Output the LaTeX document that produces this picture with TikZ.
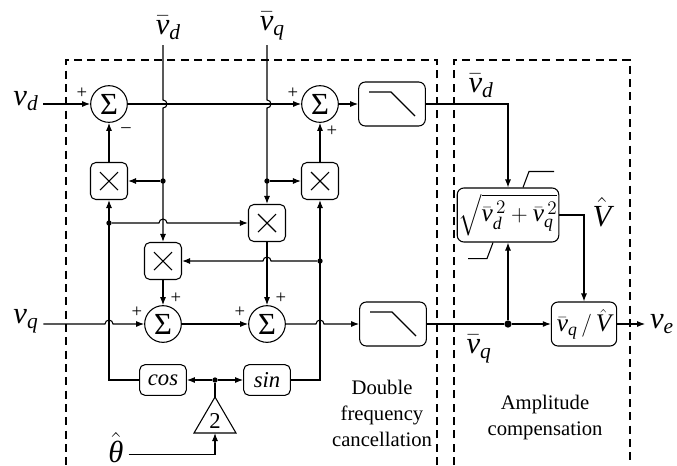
\documentclass[tikz,border=0pt]{standalone}
\usepackage{amsmath}
\usepackage{fontspec}
\setmainfont{Liberation Serif}
\usetikzlibrary{arrows.meta,positioning}
\newcommand{\iv}[1]{\textit{#1}}

\begin{document}
\begin{tikzpicture}[x=0.75pt, y=-0.75pt, line width=0.8pt, >={Latex[length=6pt,width=4.5pt]},
  sumnode/.style={draw, circle, minimum size=27.5pt, inner sep=0pt, font=\fontsize{23}{23}\selectfont},
  mulnode/.style={draw, rounded corners=4pt, minimum size=27.75pt, inner sep=0pt},
  lpfbox/.style={draw, rounded corners=5pt, minimum width=50pt, minimum height=33pt},
  trigbox/.style={draw, rounded corners=4pt, minimum width=35pt, minimum height=23pt, inner sep=0pt, font=\fontsize{17}{17}\selectfont\itshape},
  calcbox/.style={draw, rounded corners=5pt, inner sep=1pt, font=\fontsize{19}{19}\selectfont},
  dot/.style={circle, fill, inner sep=0pt, minimum size=4pt},
  sig/.style={font=\fontsize{23}{23}\selectfont},
  sgn/.style={font=\fontsize{14}{14}\selectfont, inner sep=0pt},
  note/.style={align=center, font=\fontsize{15.5}{19.5}\selectfont}]
  \useasboundingbox (0,0) rectangle (677,465);

  % Draw dashed frames
  \draw[dash pattern=on 6pt off 4pt] (437,465) -- (437,60) -- (66,60) -- (66,465);
  \draw[dash pattern=on 6pt off 4pt] (454,465) -- (454,60) -- (630,60) -- (630,465);

  % Draw blocks
  \node[sumnode] (sum1) at (109,104) {Σ};
  \node[sumnode] (sum2) at (320,104) {Σ};
  \node[sumnode] (sum3) at (163,324) {Σ};
  \node[sumnode] (sum4) at (267,324) {Σ};
  \node[mulnode] (mul1) at (109,181) {};
  \node[mulnode] (mul2) at (320,181) {};
  \node[mulnode] (mul3) at (267,223) {};
  \node[mulnode] (mul4) at (163,261) {};
  \node[lpfbox] (lpf1) at (392,104) {};
  \node[lpfbox] (lpf2) at (393,324) {};
  \node[trigbox] (cos) at (163,380) {cos};
  \node[trigbox] (sin) at (267,380) {sin};
  \node[calcbox, minimum width=73.5pt, minimum height=40.5pt] (mag) at (508,215)
    {$\sqrt{\bar{\iv{v}}_{\iv{d}}^{\,2}+\bar{\iv{v}}_{\iv{q}}^{\,2}}$};
  \node[calcbox, minimum width=49pt, minimum height=33pt] (norm) at (584,324)
    {$\bar{\iv{v}}_{\iv{q}}\,/\,\hat{\iv{V}}$};
  \node[font=\fontsize{17}{17}\selectfont] (gain) at (215,421) {2};
  \draw (194,433) -- (215,397) -- (236,433) -- cycle;
  \coordinate (gaintop) at (215,397);
  \coordinate (gainbot) at (215,433);

  % Draw multiplier crosses and filter icons
  \foreach \m in {mul1,mul2,mul3,mul4} {
    \draw ([shift={(-9,-9)}]\m.center) -- ++(18,18);
    \draw ([shift={(-9,9)}]\m.center) -- ++(18,-18);
  }
  \foreach \f in {lpf1,lpf2} {
    \draw ([shift={(-23,-12)}]\f.center) -- ++(22,0) -- ++(24,24);
  }
  \draw ([shift={(15,0)}]mag.north) -- ++(6,-16) -- ++(25,0);
  \draw ([shift={(-15,0)}]mag.south) -- ++(-6,16) -- ++(-19,0);

  % Draw branch points
  \node[dot] (d1) at (163,181) {};
  \node[dot] (d2) at (267,181) {};
  \node[dot] (d3) at (109,223) {};
  \node[dot] (d4) at (320,261) {};
  \node[dot] (split) at (215,380) {};
  \node[dot, minimum size=5.5pt] (tap) at (508,324) {};

  % Draw signal labels
  \node[sig] (vd) at (26,101) {$\iv{v}_{\iv{d}}$};
  \node[sig] (vq) at (26,321) {$\iv{v}_{\iv{q}}$};
  \coordinate (vdtop) at (163,45);
  \coordinate (vqtop) at (267,45);
  \node[sig, anchor=south, xshift=4pt] (vdbar) at (vdtop) {$\bar{\iv{v}}_{\iv{d}}$};
  \node[sig, anchor=south, xshift=4pt] (vqbar) at (vqtop) {$\bar{\iv{v}}_{\iv{q}}$};
  \node[sig] (vdout) at (481,86) {$\bar{\iv{v}}_{\iv{d}}$};
  \node[sig] (vqout) at (479,349) {$\bar{\iv{v}}_{\iv{q}}$};
  \node[sig] (vhat) at (602,212) {$\hat{\iv{V}}$};
  \node[sig] (ve) at (662,324) {$\iv{v}_{\iv{e}}$};
  \node[sig] (theta) at (116,448) {$\hat{\iv{θ}}$};

  % Draw signs
  \foreach \x/\y/\t in {82/93/+, 126/130/–, 293/93/+, 332/131/+, 137/312/+, 176/298/+, 240/312/+, 281/298/+}
    \node[sgn] (pm\x) at (\x,\y) {\t};

  % Draw connections
  \draw[->] (vd.east |- sum1) -- (sum1);
  \draw[->] (sum1) -- (sum2);
  \draw[->] (sum2) -- (lpf1);
  \draw[->] (vdtop) -- (163,100) arc[start angle=90, end angle=-90, radius=3pt] -- (mul4.north);
  \draw[->] (vqtop) -- (267,100) arc[start angle=90, end angle=-90, radius=3pt] -- (mul3.north);
  \draw[->] (d1) -- (mul1);
  \draw[->] (d2) -- (mul2);
  \draw[->] (mul1) -- (sum1);
  \draw[->] (mul2) -- (sum2);
  \draw[->] (cos.west) -| (mul1.south);
  \draw[->] (sin.east) -| (mul2.south);
  \draw[->] (d3) -- (159,223) arc[start angle=180, end angle=0, radius=3pt] -- (mul3.west);
  \draw[->] (d4) -- (271,261) arc[start angle=0, end angle=180, radius=3pt] -- (mul4.east);
  \draw[->] (mul4) -- (sum3);
  \draw[->] (mul3) -- (sum4);
  \draw[->] (vq.east |- sum3) -- (105,324) arc[start angle=180, end angle=0, radius=3pt] -- (sum3.west);
  \draw[->] (sum3) -- (sum4);
  \draw[->] (sum4) -- (316,324) arc[start angle=180, end angle=0, radius=3pt] -- (lpf2.west);
  \draw (gaintop) -- (split);
  \draw[->] (split) -- (cos);
  \draw[->] (split) -- (sin);
  \draw[->] ([yshift=-5pt]theta.east) -| (gainbot);
  \draw[->] (lpf1.east) -| (mag.north);
  \draw (lpf2.east) -- (tap);
  \draw[->] (tap) -- (mag.south);
  \draw[->] (tap) -- (norm.west);
  \draw[->] (mag.east) -| (norm.north);
  \draw[->] (norm.east) -- (ve.west);

  % Draw section titles
  \node[note] (dfc) at (382,413) {Double\\frequency\\cancellation};
  \node[note] (amp) at (545,418) {Amplitude\\compensation};
\end{tikzpicture}
\end{document}
